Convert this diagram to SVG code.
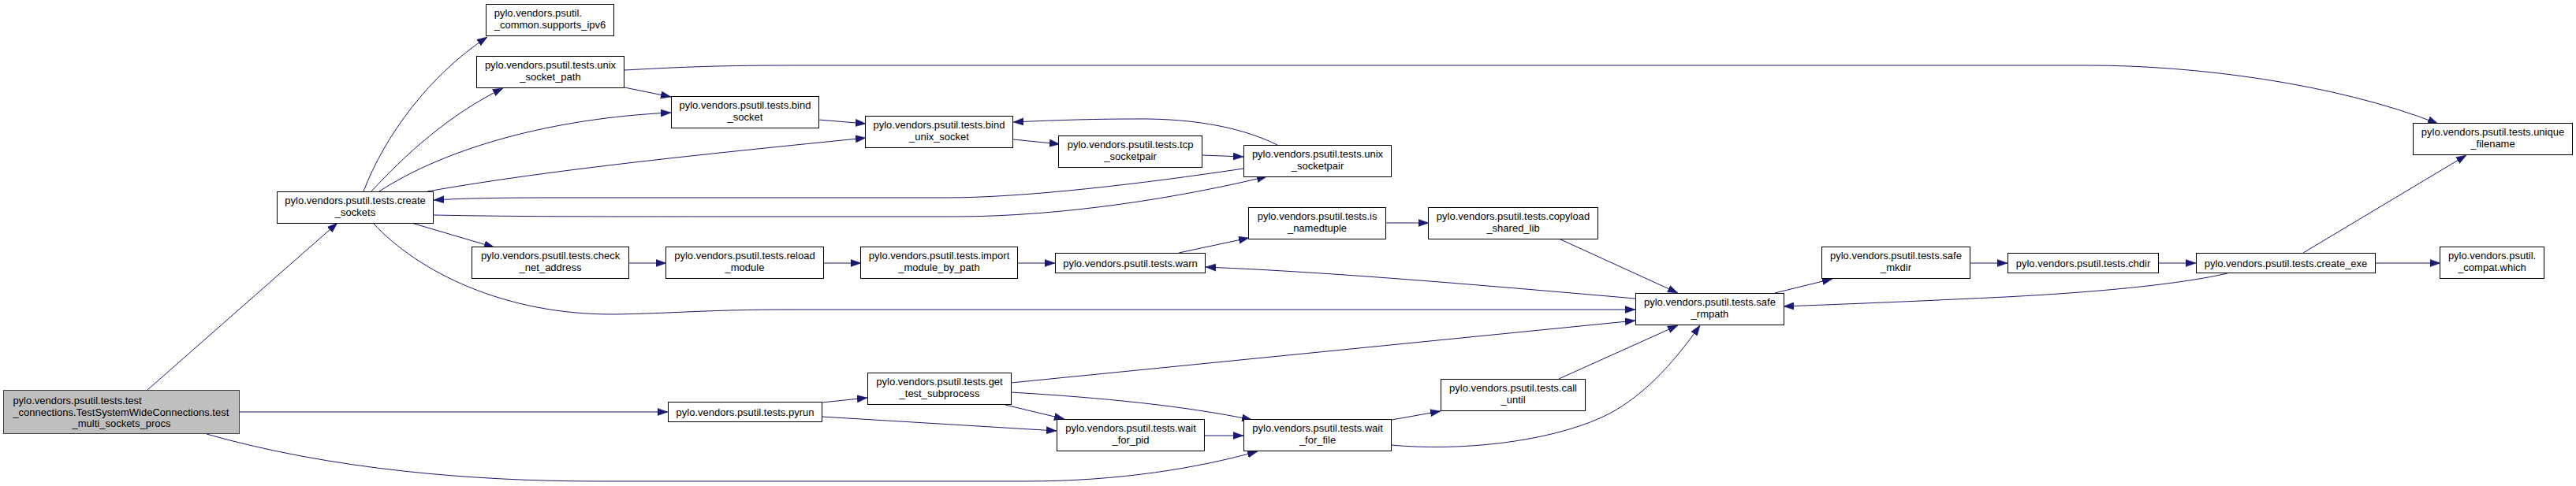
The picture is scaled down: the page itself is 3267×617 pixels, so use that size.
<svg xmlns="http://www.w3.org/2000/svg" width="3267" height="617" viewBox="0 0 3267 617">
<style>
text{font-family:"Liberation Sans",Arial,Helvetica,sans-serif;font-size:13px;fill:#000}
.c{text-anchor:middle}
.n rect{fill:#fff;stroke:#000;stroke-width:1}
#root rect{fill:#bfbfbf;stroke:#404040}
.e path{fill:none;stroke:#191970;stroke-width:1;marker-end:url(#a)}
</style>
<defs>
<marker id="a" markerUnits="userSpaceOnUse" markerWidth="13" markerHeight="10" viewBox="0 0 13 9.2" refX="13" refY="4.6" orient="auto">
<path d="M0,0 L13,4.6 L0,9.2 Z" fill="#191970" stroke="#191970" stroke-width="0.5"/>
</marker>
</defs>
<rect width="3267" height="617" fill="#fff"/>
<g id="edges" class="e">
<path d="M187,495 L428,283"/>
<path d="M304,523 L847,523"/>
<path d="M262,551 C420,596 600,611 760,611 L1300,611 C1420,611 1520,594 1595,573"/>
<path d="M461,243 C488,172 545,95 618,47"/>
<path d="M471,243 C512,198 570,145 638,112"/>
<path d="M481,243 C565,188 700,150 851,143"/>
<path d="M542,243 C700,215 900,195 1098,175"/>
<path d="M1577,214 C1450,233 1300,251 1200,251 L700,251 C620,251 585,252 550,254"/>
<path d="M550,273 C650,275 750,275 900,275 L1210,275 C1350,275 1500,250 1607,224"/>
<path d="M792,89 C850,86 900,83 1000,83 L2650,83 C2780,83 2960,105 3092,157"/>
<path d="M792,111 L851,123"/>
<path d="M1038,152 L1098,157"/>
<path d="M1285,177 L1344,183"/>
<path d="M1620,184 C1580,164 1520,150 1440,151 C1380,151 1330,153 1285,155"/>
<path d="M1525,197 L1577,199"/>
<path d="M522,283 L627,314"/>
<path d="M473,283 C530,345 640,400 780,399 C850,398 900,393 1000,393 L2074,393"/>
<path d="M798,334 L845,334"/>
<path d="M1044,334 L1092,334"/>
<path d="M1291,334 L1338,334"/>
<path d="M1495,321 L1584,302"/>
<path d="M1758,283 L1812,283"/>
<path d="M2074,379 C1900,364 1700,346 1529,339"/>
<path d="M1977,303 L2128,372"/>
<path d="M1282,486 L2074,407"/>
<path d="M1275,514 L1350,532"/>
<path d="M1282,498 C1400,505 1500,515 1588,533"/>
<path d="M1042,511 L1100,505"/>
<path d="M1042,529 L1340,547"/>
<path d="M1527,553 L1577,553"/>
<path d="M1765,533 L1827,522"/>
<path d="M1764,565 C1850,573 1960,562 2031,530 C2080,508 2122,462 2156,413"/>
<path d="M1977,481 L2128,413"/>
<path d="M2251,372 L2324,354"/>
<path d="M2499,334 L2546,334"/>
<path d="M2738,334 L2785,334"/>
<path d="M3012,334 L3095,334"/>
<path d="M2921,321 L3128,197"/>
<path d="M2825,347 C2750,364 2620,374 2500,379 C2420,383 2340,386 2262,389"/>
</g>
<g id="root" class="n"><rect x="4.5" y="495.5" width="299" height="55"/><text x="16.4" y="512.5">pylo.vendors.psutil.tests.test</text><text x="16.4" y="527.5">_connections.TestSystemWideConnections.test</text><text class="c" x="154" y="542">_multi_sockets_procs</text></g>
<g id="create_sockets" class="n"><rect x="351.5" y="243.5" width="198" height="40"/><text x="361.3" y="259">pylo.vendors.psutil.tests.create</text><text class="c" x="450.5" y="274">_sockets</text></g>
<g id="supports_ipv6" class="n"><rect x="616.5" y="5.5" width="162" height="40"/><text x="626.7" y="21">pylo.vendors.psutil.</text><text class="c" x="697.5" y="36">_common.supports_ipv6</text></g>
<g id="unix_socket_path" class="n"><rect x="604.5" y="71.5" width="187" height="40"/><text x="614.9" y="87">pylo.vendors.psutil.tests.unix</text><text class="c" x="698" y="102">_socket_path</text></g>
<g id="bind_socket" class="n"><rect x="851.5" y="122.5" width="187" height="40"/><text x="861.5" y="138">pylo.vendors.psutil.tests.bind</text><text class="c" x="945" y="153">_socket</text></g>
<g id="bind_unix_socket" class="n"><rect x="1097.5" y="147.5" width="187" height="40"/><text x="1107.5" y="163">pylo.vendors.psutil.tests.bind</text><text class="c" x="1191" y="178">_unix_socket</text></g>
<g id="tcp_socketpair" class="n"><rect x="1342.5" y="172.5" width="182" height="40"/><text x="1353.7" y="188">pylo.vendors.psutil.tests.tcp</text><text class="c" x="1433.5" y="203">_socketpair</text></g>
<g id="unix_socketpair" class="n"><rect x="1577.5" y="184.5" width="187" height="40"/><text x="1587.9" y="200">pylo.vendors.psutil.tests.unix</text><text class="c" x="1671" y="215">_socketpair</text></g>
<g id="unique_filename" class="n"><rect x="3060.5" y="156.5" width="202" height="40"/><text x="3070.8" y="172">pylo.vendors.psutil.tests.unique</text><text class="c" x="3161.5" y="187">_filename</text></g>
<g id="check_net_address" class="n"><rect x="598.5" y="313.5" width="199" height="40"/><text x="609.9" y="329">pylo.vendors.psutil.tests.check</text><text class="c" x="698" y="344">_net_address</text></g>
<g id="reload_module" class="n"><rect x="844.5" y="313.5" width="200" height="40"/><text x="855.2" y="329">pylo.vendors.psutil.tests.reload</text><text class="c" x="944.5" y="344">_module</text></g>
<g id="import_module_by_path" class="n"><rect x="1091.5" y="313.5" width="199" height="40"/><text x="1101.8" y="329">pylo.vendors.psutil.tests.import</text><text class="c" x="1191" y="344">_module_by_path</text></g>
<g id="warn" class="n"><rect x="1338.5" y="321.5" width="190" height="25"/><text class="c" x="1433.5" y="338.5">pylo.vendors.psutil.tests.warn</text></g>
<g id="is_namedtuple" class="n"><rect x="1583.5" y="263.5" width="174" height="40"/><text x="1594.7" y="279">pylo.vendors.psutil.tests.is</text><text class="c" x="1670.5" y="294">_namedtuple</text></g>
<g id="copyload_shared_lib" class="n"><rect x="1811.5" y="263.5" width="215" height="40"/><text x="1821.8" y="279">pylo.vendors.psutil.tests.copyload</text><text class="c" x="1919" y="294">_shared_lib</text></g>
<g id="safe_rmpath" class="n"><rect x="2074.5" y="372.5" width="188" height="40"/><text x="2085" y="388">pylo.vendors.psutil.tests.safe</text><text class="c" x="2168.5" y="403">_rmpath</text></g>
<g id="safe_mkdir" class="n"><rect x="2310.5" y="313.5" width="188" height="40"/><text x="2321" y="329">pylo.vendors.psutil.tests.safe</text><text class="c" x="2404.5" y="344">_mkdir</text></g>
<g id="chdir" class="n"><rect x="2546.5" y="321.5" width="191" height="25"/><text class="c" x="2642" y="338.5">pylo.vendors.psutil.tests.chdir</text></g>
<g id="create_exe" class="n"><rect x="2785.5" y="321.5" width="227" height="25"/><text class="c" x="2899" y="338.5">pylo.vendors.psutil.tests.create_exe</text></g>
<g id="compat_which" class="n"><rect x="3094.5" y="313.5" width="132" height="40"/><text x="3104.9" y="329">pylo.vendors.psutil.</text><text class="c" x="3160.5" y="344">_compat.which</text></g>
<g id="pyrun" class="n"><rect x="847.5" y="510.5" width="195" height="25"/><text class="c" x="945" y="527.5">pylo.vendors.psutil.tests.pyrun</text></g>
<g id="get_test_subprocess" class="n"><rect x="1100.5" y="473.5" width="182" height="40"/><text x="1111.3" y="489">pylo.vendors.psutil.tests.get</text><text class="c" x="1191.5" y="504">_test_subprocess</text></g>
<g id="wait_for_pid" class="n"><rect x="1340.5" y="532.5" width="187" height="40"/><text x="1351.3" y="548">pylo.vendors.psutil.tests.wait</text><text class="c" x="1434" y="563">_for_pid</text></g>
<g id="wait_for_file" class="n"><rect x="1577.5" y="532.5" width="187" height="40"/><text x="1588.3" y="548">pylo.vendors.psutil.tests.wait</text><text class="c" x="1671" y="563">_for_file</text></g>
<g id="call_until" class="n"><rect x="1827.5" y="481.5" width="183" height="40"/><text x="1838.1" y="497">pylo.vendors.psutil.tests.call</text><text class="c" x="1919" y="512">_until</text></g>
</svg>
